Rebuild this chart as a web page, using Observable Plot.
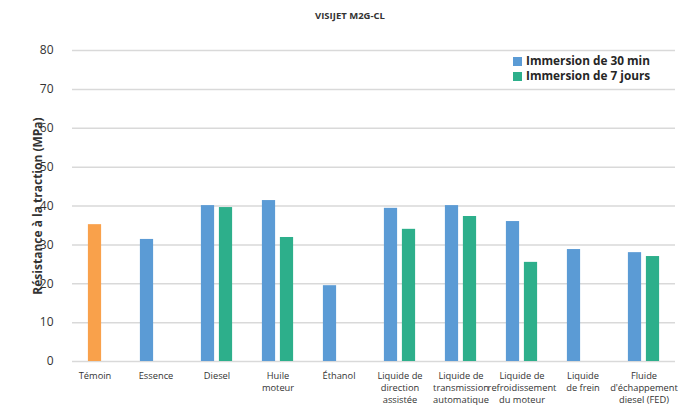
<!DOCTYPE html>
<html>
<head>
<meta charset="utf-8">
<script src="https://cdn.jsdelivr.net/npm/d3@7"></script>
<script src="https://cdn.jsdelivr.net/npm/@observablehq/plot@0.6"></script>
<style>
  body { margin: 0; background: #fff; font-family: "Open Sans", sans-serif; }
  #wrap { position: relative; width: 685px; height: 405px; }
  #title { position: absolute; top: 9px; left: 0; width: 700px; text-align: center; font-size: 9.5px; font-weight: bold; color: #333; }
  #legend { position: absolute; left: 513px; top: 53px; font-size: 11.8px; font-weight: bold; color: #262626; line-height: 15px; }
  #legend div { height: 15px; }
  #legend .sw { display: inline-block; width: 9px; height: 9px; margin-right: 4px; vertical-align: -0.5px; }
  #chart { position: absolute; top: 0; left: 0; }
</style>
</head>
<body>
<div id="wrap">
  <div id="chart"></div>
  <div id="title">VISIJET M2G-CL</div>
  <div id="legend"></div>
</div>
<script>
const title = "VISIJET M2G-CL";
const yLabel = "Résistance à la traction (MPa)";
const categories = ["Témoin","Essence","Diesel","Huile moteur","Éthanol","Liquide de direction assistée","Liquide de transmission automatique","Liquide de refroidissement du moteur","Liquide de frein","Fluide d'échappement diesel (FED)"];
const tickLabels = ["Témoin","Essence","Diesel","Huile\nmoteur","Éthanol","Liquide de\ndirection\nassistée","Liquide de\ntransmission\nautomatique","Liquide de\nrefroidissement\ndu moteur","Liquide\nde frein","Fluide\nd'échappement\ndiesel (FED)"];
const seriesNames = ["Immersion de 30 min","Immersion de 7 jours"];
const temoinValue = 35.2;
const values30min = [null, 31.4, 40.1, 41.4, 19.5, 39.4, 40.1, 36.0, 28.8, 28.0];
const values7jours = [null, null, 39.6, 31.9, null, 34.0, 37.3, 25.5, null, 27.0];
const yTicks = [0,10,20,30,40,50,60,70,80];
const colors = {blue: "#5B9BD5", green: "#2DAF8B", orange: "#F9A14B"};

const d30 = categories.map((c,i)=>({cat:c, v:values30min[i]})).filter(d=>d.v!=null);
const d7 = categories.map((c,i)=>({cat:c, v:values7jours[i]})).filter(d=>d.v!=null);
const dT = [{cat: categories[0], v: temoinValue}];
const labelOf = Object.fromEntries(categories.map((c,i)=>[c, tickLabels[i]]));

const barInset = 23.9;
const chart = Plot.plot({
  width: 685,
  height: 405,
  marginTop: 50,
  marginBottom: 44,
  marginLeft: 72,
  marginRight: 10,
  style: {fontFamily: "'Open Sans', sans-serif", background: "#fff", color: "#333"},
  x: {type: "band", domain: categories, range: [60, 678], padding: 0},
  y: {domain: [0, 80]},
  marks: [
    Plot.gridY(yTicks, {stroke: "#d9d9d9", strokeOpacity: 1, strokeWidth: 1.5}),
    Plot.barY(dT, {x: "cat", y: "v", fill: colors.orange, insetLeft: barInset, insetRight: barInset}),
    Plot.barY(d30, {x: "cat", y: "v", fill: colors.blue, insetLeft: barInset, insetRight: barInset, dx: -9}),
    Plot.barY(d7, {x: "cat", y: "v", fill: colors.green, insetLeft: barInset, insetRight: barInset, dx: 9}),
    Plot.axisX({tickSize: 0, tickPadding: 9, fontSize: 9.3, lineHeight: 1.27, tickFormat: d => labelOf[d], label: null, fill: "#333"}),
    Plot.axisY(yTicks, {tickSize: 0, tickPadding: 19, fontSize: 12, label: yLabel, labelAnchor: "center", labelOffset: 39, labelArrow: "none", fill: "#333"}),
  ]
});
document.getElementById("chart").appendChild(chart);
chart.querySelectorAll("g[aria-label='y-axis label'] text").forEach(t => { t.setAttribute("font-weight","bold"); t.setAttribute("font-size","12"); });

const legend = document.getElementById("legend");
legend.innerHTML = seriesNames.map((n,i)=>`<div><span class="sw" style="background:${i===0?colors.blue:colors.green}"></span>${n}</div>`).join("");
</script>
</body>
</html>
